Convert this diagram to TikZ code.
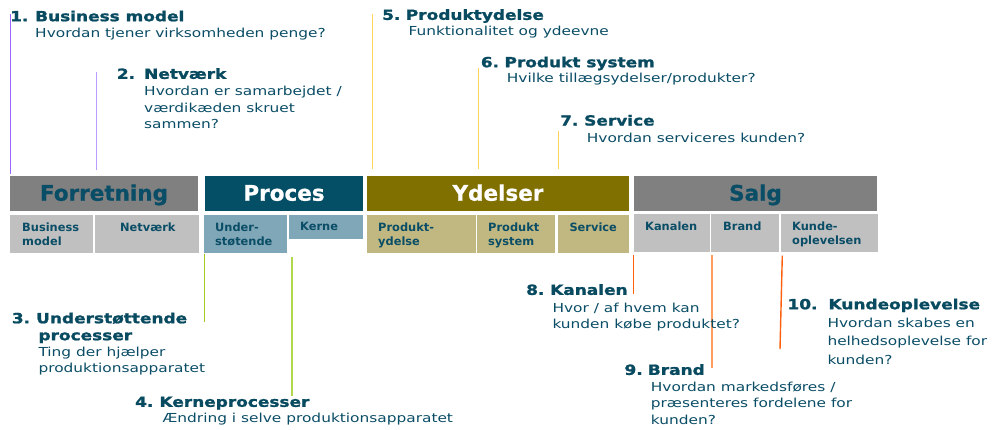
\documentclass[tikz,border=0pt]{standalone}
\usepackage{fontspec}
\setmainfont{DejaVu Sans}
\newfontfamily\ttlfont[FakeStretch=1.21,FakeBold=1.3]{DejaVu Sans}
\newfontfamily\hdrfont[FakeBold=0.8]{DejaVu Sans}
\newfontfamily\dscfont[FakeStretch=1.24]{DejaVu Sans}
\definecolor{txt}{HTML}{0A4D66}
\definecolor{ttlc}{HTML}{084A60}
\definecolor{hgray}{HTML}{808080}
\definecolor{hteal}{HTML}{044F66}
\definecolor{holive}{HTML}{807000}
\definecolor{sgray}{HTML}{C0C0C0}
\definecolor{steal}{HTML}{80A7B7}
\definecolor{solive}{HTML}{C0B880}
\definecolor{purA}{HTML}{9966FF}
\definecolor{purB}{HTML}{B89CFF}
\definecolor{yel}{HTML}{FFD45C}
\definecolor{grnA}{HTML}{A2CC22}
\definecolor{grnB}{HTML}{B0D84A}
\definecolor{orA}{HTML}{FF6010}
\definecolor{orB}{HTML}{FF9E5E}
\begin{document}
\begin{tikzpicture}[x=1pt,y=-1pt,
  box/.style={anchor=north west, inner sep=0, outer sep=0},
  htxt/.style={anchor=base, inner sep=0, font=\hdrfont\fontsize{21.5}{24}\selectfont\bfseries},
  stxt/.style={anchor=north west, inner sep=0, align=left, text=txt, font=\fontsize{11.4}{14}\selectfont\bfseries},
  ttl/.style={anchor=north west, inner sep=0, align=left, text=ttlc, font=\ttlfont\fontsize{14}{17}\selectfont\bfseries},
  dsc/.style={anchor=north west, inner sep=0, align=left, text=txt, font=\dscfont\fontsize{12.4}{16.8}\selectfont},
  lead/.style={line width=1.4pt}]
\useasboundingbox (0,0) rectangle (992,429);
\fill[white] (0,0) rectangle (992,429);

% header boxes
\node[box, fill=hgray, minimum width=188, minimum height=35] (hF) at (10,176) {};
\node[box, fill=hteal, minimum width=158, minimum height=35] (hP) at (205,176) {};
\node[box, fill=holive, minimum width=262, minimum height=35] (hY) at (367,176) {};
\node[box, fill=hgray, minimum width=243, minimum height=35] (hS) at (634,176) {};
\node[htxt, text=txt] (tF) at (104,200.7) {Forretning};
\node[htxt, text=white] (tP) at (284,200.7) {Proces};
\node[htxt, text=white] (tY) at (498,200.7) {Ydelser};
\node[htxt, text=txt] (tS) at (755.5,200.7) {Salg};

% sub boxes
\node[box, fill=sgray, minimum width=83, minimum height=38] (bm) at (10,215) {};
\node[box, fill=sgray, minimum width=104, minimum height=38] (nv) at (95,215) {};
\node[box, fill=steal, minimum width=83, minimum height=38] (us) at (204,215) {};
\node[box, fill=steal, minimum width=74, minimum height=24] (ke) at (289,215) {};
\node[box, fill=solive, minimum width=109, minimum height=38] (py) at (367,215) {};
\node[box, fill=solive, minimum width=78, minimum height=38] (ps) at (477,215) {};
\node[box, fill=solive, minimum width=71, minimum height=38] (sv) at (558,215) {};
\node[box, fill=sgray, minimum width=76, minimum height=38] (ka) at (634,214) {};
\node[box, fill=sgray, minimum width=68, minimum height=38] (br) at (711,214) {};
\node[box, fill=sgray, minimum width=97, minimum height=38] (ku) at (781,214) {};

\node[stxt] (bmt) at (22,222.4) {Business\\model};
\node[stxt] (nvt) at (120,222.4) {Netværk};
\node[stxt] (ust) at (215,222.4) {Under-\\støtende};
\node[stxt] (ket) at (300,222.4) {Kerne};
\node[stxt] (pyt) at (378,222.4) {Produkt-\\ydelse};
\node[stxt] (pst) at (488,222.4) {Produkt\\system};
\node[stxt] (svt) at (569.3,222.4) {Service};
\node[stxt] (kat) at (645,221.4) {Kanalen};
\node[stxt] (brt) at (723,221.4) {Brand};
\node[stxt] (kut) at (792,221.4) {Kunde-\\oplevelsen};

% leader lines
\coordinate (a1) at (10.5,14);    \coordinate (b1) at (10.5,174);
\coordinate (a2) at (96.5,72);    \coordinate (b2) at (96.5,170);
\coordinate (a5) at (372.5,14);   \coordinate (b5) at (372.5,169);
\coordinate (a6) at (478.5,68);   \coordinate (b6) at (478.5,169);
\coordinate (a7) at (558.5,131);  \coordinate (b7) at (558.5,168.7);
\coordinate (a3) at (204.5,254);  \coordinate (b3) at (204.5,321.7);
\coordinate (a4) at (292,256.7);  \coordinate (b4) at (292,396);
\coordinate (a8) at (633.5,255);  \coordinate (b8) at (633.5,294);
\coordinate (a9) at (712,255);    \coordinate (b9) at (712,368.3);
\coordinate (a10) at (782.3,255.7); \coordinate (b10) at (780,349);
\draw[lead, purA] (a1) -- (b1);
\draw[lead, purB] (a2) -- (b2);
\draw[lead, yel] (a5) -- (b5);
\draw[lead, yel] (a6) -- (b6);
\draw[lead, yel] (a7) -- (b7);
\draw[lead, grnA] (a3) -- (b3);
\draw[lead, grnB] (a4) -- (b4);
\draw[lead, orA, line width=1.2pt] (a8) -- (b8);
\draw[lead, orB] (a9) -- (b9);
\draw[lead, orA] (a10) -- (b10);

% titles
\node[ttl] (t1) at (10,10.4) {\makebox[25pt][l]{1.}Business model};
\node[ttl] (t2) at (116.7,68) {\makebox[27.3pt][l]{2.}Netværk};
\node[ttl] (t3) at (11.7,312.4) {\makebox[24.3pt][l]{3.}Understøttende\\\hspace*{26.6pt}processer};
\node[ttl] (t4) at (135,396.4) {\makebox[24.3pt][l]{4.}Kerneprocesser};
\node[ttl] (t5) at (382,9) {\makebox[23.7pt][l]{5.}Produktydelse};
\node[ttl] (t6) at (480.7,56.4) {\makebox[23.6pt][l]{6.}Produkt system};
\node[ttl] (t7) at (560,114.7) {\makebox[24pt][l]{7.}Service};
\node[ttl] (t8) at (526,284) {\makebox[24pt][l]{8.}Kanalen};
\node[ttl] (t9) at (624.3,364) {\makebox[23.4pt][l]{9.}Brand};
\node[ttl] (t10) at (787.3,298.4) {\makebox[41pt][l]{10.}Kundeoplevelse};

% descriptions
\node[dsc] (d1) at (35,28) {Hvordan tjener virksomheden penge?};
\node[dsc] (d2) at (144,85.7) {Hvordan er samarbejdet /\\værdikæden skruet\\sammen?};
\node[dsc] (d3) at (38.3,346.4) {Ting der hjælper\\produktionsapparatet};
\node[dsc] (d4) at (162.3,413) {Ændring i selve produktionsapparatet};
\node[dsc] (d5) at (408.3,25.7) {Funktionalitet og ydeevne};
\node[dsc] (d6) at (506.7,73) {Hvilke tillægsydelser/produkter?};
\node[dsc] (d7) at (586.7,132.4) {Hvordan serviceres kunden?};
\node[dsc] (d8) at (552.3,302.4) {Hvor / af hvem kan\\kunden købe produktet?};
\node[dsc] (d9) at (650.7,381.4) {Hvordan markedsføres /\\præsenteres fordelene for\\kunden?};
\node[dsc, font=\dscfont\fontsize{12.4}{18.2}\selectfont] (d10) at (827.3,318) {Hvordan skabes en\\helhedsoplevelse for\\kunden?};
\end{tikzpicture}
\end{document}
